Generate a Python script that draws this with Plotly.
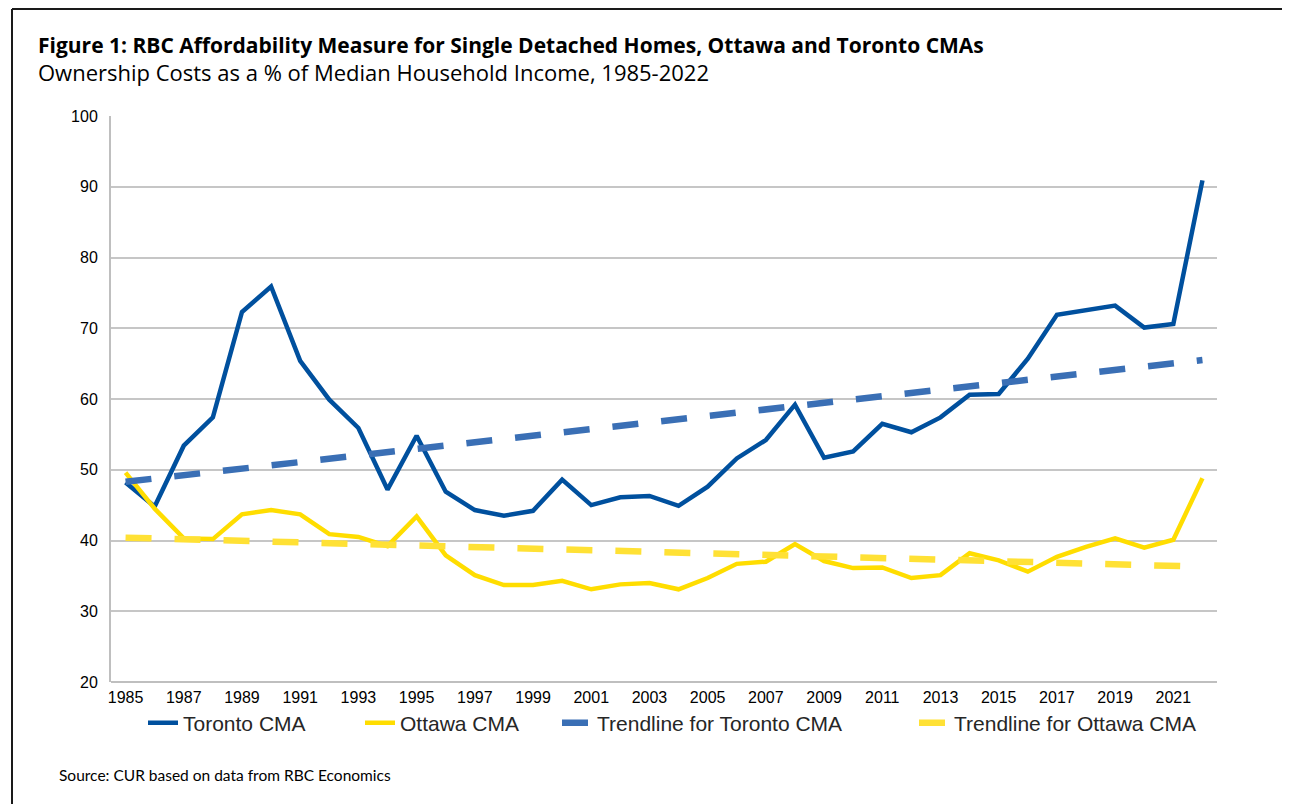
import plotly.graph_objects as go

# values (% of median household income)
YEARS = list(range(1985, 2023))
TORONTO = [
    48.2, 44.8, 53.4, 57.4, 72.3, 75.9, 65.4, 59.9, 55.9, 47.2,
    54.8, 46.9, 44.3, 43.5, 44.2, 48.6, 45.0, 46.1, 46.3, 44.9,
    47.6, 51.6, 54.2, 59.2, 51.7, 52.6, 56.5, 55.3, 57.4, 60.6,
    60.7, 65.7, 71.9, 72.5, 73.2, 70.1, 70.6, 90.9,
]
OTTAWA = [
    49.6, 44.5, 40.3, 40.2, 43.7, 44.3, 43.7, 40.9, 40.5, 39.2,
    43.4, 37.9, 35.1, 33.7, 33.7, 34.3, 33.1, 33.8, 34.0, 33.1,
    34.7, 36.7, 37.0, 39.5, 37.1, 36.1, 36.2, 34.7, 35.1, 38.2,
    37.2, 35.6, 37.7, 39.1, 40.3, 39.0, 40.1, 48.8,
]
# trendline end points, 1985 and 2022
TREND_YEARS = [1985, 2022]
TORONTO_TREND = [48.3, 65.5]
OTTAWA_TREND = [40.4, 36.3]

TICK_YEARS = list(range(1985, 2022, 2))

TITLE = "Figure 1: RBC Affordability Measure for Single Detached Homes, Ottawa and Toronto CMAs"
SUBTITLE = "Ownership Costs as a % of Median Household Income, 1985-2022"
SOURCE = "Source: CUR based on data from RBC Economics"

BLUE = "#00509E"
BLUE_TREND = "#3A6FB5"
YELLOW = "#FFDD00"
YELLOW_TREND = "#FFE135"

# the page body adds an 8px margin, so the figure is a bit smaller than the window
OFF = 8
W, H = 1290 - OFF, 804 - OFF
PLOT_X0, PLOT_X1 = 111, 1217   # page pixels of the plot area
PLOT_Y0, PLOT_Y1 = 116, 682
L, T = PLOT_X0 - OFF, PLOT_Y0 - OFF
R, B = W - (PLOT_X1 - OFF), H - (PLOT_Y1 - OFF)
PW, PH = PLOT_X1 - PLOT_X0, PLOT_Y1 - PLOT_Y0


def px_x(px):
    return (px - PLOT_X0) / PW


def px_y(py):
    return (PLOT_Y1 - py) / PH


def legend_box(x_px):
    return dict(
        x=px_x(x_px),
        y=px_y(723),
        xanchor="left",
        yanchor="middle",
        orientation="h",
        bgcolor="rgba(0,0,0,0)",
        font=dict(family="Liberation Sans, Arial", size=21, color="#262626"),
    )


fig = go.Figure()
fig.add_trace(
    go.Scatter(
        x=YEARS, y=TORONTO, name="Toronto CMA", mode="lines",
        line=dict(color=BLUE, width=4.5), legend="legend",
    )
)
fig.add_trace(
    go.Scatter(
        x=YEARS, y=OTTAWA, name="Ottawa CMA", mode="lines",
        line=dict(color=YELLOW, width=4.5), legend="legend2",
    )
)
fig.add_trace(
    go.Scatter(
        x=TREND_YEARS, y=TORONTO_TREND, name="Trendline for Toronto CMA", mode="lines",
        line=dict(color=BLUE_TREND, width=6.5, dash="26px,23px"), legend="legend3",
    )
)
fig.add_trace(
    go.Scatter(
        x=TREND_YEARS, y=OTTAWA_TREND, name="Trendline for Ottawa CMA", mode="lines",
        line=dict(color=YELLOW_TREND, width=6.5, dash="26px,23px"), legend="legend4",
    )
)

fig.update_layout(
    width=W,
    height=H,
    margin=dict(l=L, r=R, t=T, b=B),
    plot_bgcolor="white",
    paper_bgcolor="white",
    showlegend=True,
    legend=legend_box(143),
    legend2=legend_box(360),
    legend3=legend_box(557),
    legend4=legend_box(914),
    xaxis=dict(
        range=[1984.5, 2022.5],
        tickvals=TICK_YEARS,
        ticktext=[str(y) for y in TICK_YEARS],
        showgrid=False,
        zeroline=False,
        showline=False,
        ticks="",
        ticklabelstandoff=4,
        tickfont=dict(family="Liberation Sans, Arial", size=16, color="#000000"),
    ),
    yaxis=dict(
        range=[20, 100],
        dtick=10,
        showgrid=True,
        gridcolor="#C6C6C6",
        gridwidth=1.5,
        zeroline=False,
        showline=True,
        linecolor="#BFBFBF",
        linewidth=2,
        ticks="",
        ticklen=0,
        ticklabelstandoff=8,
        tickfont=dict(family="Liberation Sans, Arial", size=16, color="#000000"),
    ),
    annotations=[
        dict(
            text="<b>" + TITLE + "</b>", x=px_x(36), y=px_y(45),
            xref="paper", yref="paper", xanchor="left", yanchor="middle",
            showarrow=False, font=dict(family="Open Sans", size=21, color="#000000"),
        ),
        dict(
            text=SUBTITLE, x=px_x(36), y=px_y(72),
            xref="paper", yref="paper", xanchor="left", yanchor="middle",
            showarrow=False, font=dict(family="Open Sans", size=22, color="#000000"),
        ),
        dict(
            text=SOURCE, x=px_x(57), y=px_y(775),
            xref="paper", yref="paper", xanchor="left", yanchor="middle",
            showarrow=False, font=dict(family="Lato", size=15.5, color="#000000"),
        ),
    ],
    shapes=[
        # outer frame of the figure
        dict(type="line", xref="paper", yref="paper", x0=px_x(12), x1=px_x(1290),
             y0=px_y(9), y1=px_y(9), line=dict(color="#1A1A1A", width=2)),
        dict(type="line", xref="paper", yref="paper", x0=px_x(12), x1=px_x(12),
             y0=px_y(9), y1=px_y(810), line=dict(color="#1A1A1A", width=2)),
        dict(type="line", xref="paper", yref="paper", x0=px_x(1288), x1=px_x(1288),
             y0=px_y(9), y1=px_y(810), line=dict(color="#E3E3E3", width=1)),
        # bottom axis line
        dict(type="line", xref="paper", yref="paper", x0=0, x1=1, y0=0, y1=0,
             line=dict(color="#BFBFBF", width=2)),
    ],
)

fig.write_html("out.html")
